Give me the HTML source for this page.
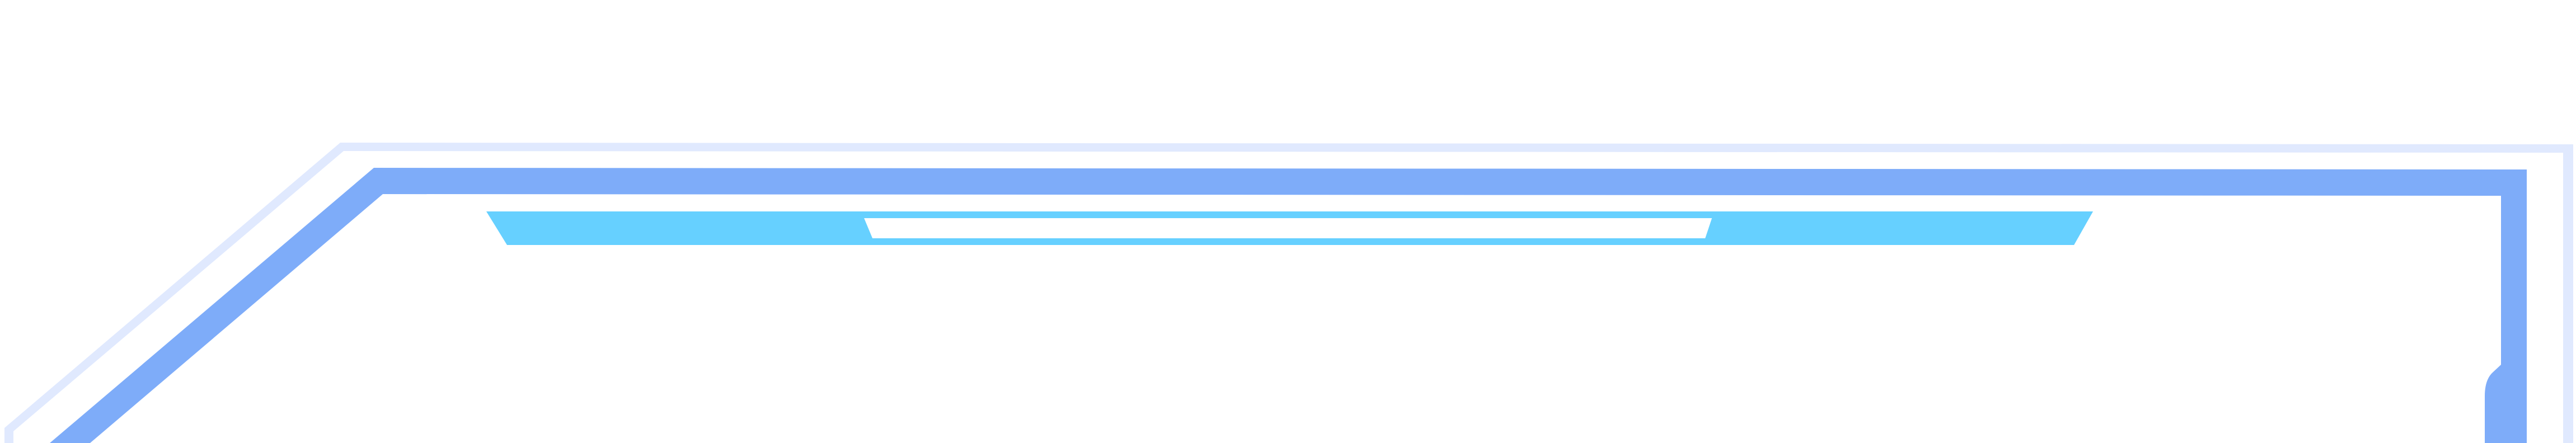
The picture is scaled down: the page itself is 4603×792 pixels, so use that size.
<!DOCTYPE html>
<html><head><meta charset="utf-8"><style>
html,body{margin:0;padding:0;background:#fff;width:4603px;height:792px;overflow:hidden}
svg{display:block}
</style></head><body>
<svg width="4603" height="792" viewBox="0 0 4603 792" xmlns="http://www.w3.org/2000/svg">
  <polygon fill="#e0e9fe"
    points="8,792 8,765 608,255 4598,258 4598,792 4580,792 4580,273 614,270 24,771 24,792"/>
  <path fill="#7eacf9"
    d="M89,792 L668,300 L4515,303 L4515,792 L4440,792 L4440,708 Q4440,678 4455,665 L4469,652 L4469,350 L684,347 L161,792 Z"/>
  <polygon fill="#66d0ff"
    points="869,378 3740,378 3706,438 906,438"/>
  <polygon fill="#ffffff"
    points="1544,390 3059,390 3047,426 1559,426"/>
</svg>
</body></html>
